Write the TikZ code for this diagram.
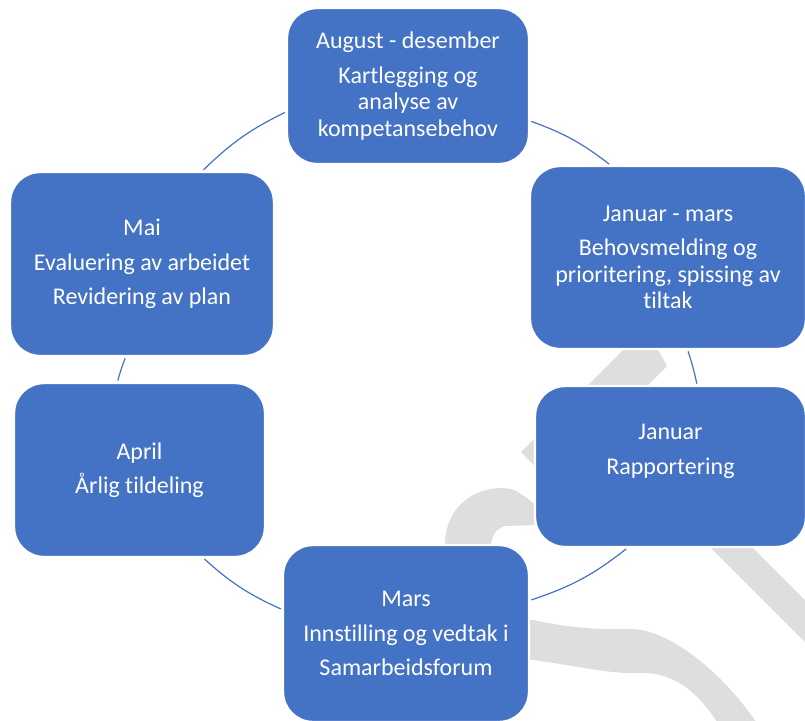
\documentclass[tikz,border=0pt]{standalone}
\usepackage{fontspec}
\setmainfont{Carlito}[Ligatures=NoCommon]
\definecolor{fasebla}{HTML}{4472C4}
\definecolor{merke}{HTML}{DEDEDE}

\begin{document}
\begin{tikzpicture}[x=0.5pt, y=-0.5pt,
    fase/.style={draw=white, line width=1.2pt, fill=fasebla, rounded corners=15pt,
        text=white, align=center, font=\fontsize{12}{13.25}\selectfont},
    sirkel/.style={draw=fasebla, line width=0.6pt, shorten <=0.6pt, shorten >=0.6pt}]
        \useasboundingbox (0,0) rectangle (805,720);
        \clip (0,0) rectangle (805,720);

        \fill [merke] (521,452) -- (631,342) -- (654,342) -- (667,366) -- (600,434) -- (592,452) -- (640,500) -- (567,500) -- cycle;
        \fill [merke] (663,500) -- (705,500) -- (950,745) -- (908,745) -- cycle;
        \fill [merke] (445,600) -- (445,542) .. controls (447,505) and (475,488) .. (502,488) .. controls (515,489) .. (540,508) -- (540,525) -- (505,526) .. controls (493,530) and (487,537) .. (487,600) -- cycle;
        \fill [merke] (500,618) -- (533,620) .. controls (570,628) and (600,630) .. (633,629) .. controls (665,630) and (720,665) .. (765,735) -- (725,735) .. controls (705,700) and (680,672) .. (640,673) .. controls (610,674) and (590,668) .. (533,660) -- (500,658) -- cycle;

        \node [fase, minimum width=121pt, minimum height=78pt] (aug) at (408,86) {August - desember\\[4pt]Kartlegging og\\analyse av\\kompetansebehov};
        \node [fase, minimum width=138pt, minimum height=91.5pt] (jm) at (668,257.5) {Januar - mars\\[4pt]Behovsmelding og\\prioritering, spissing av\\tiltak};
        \node [fase, minimum width=135.5pt, minimum height=80.5pt] (jan) at (670.5,466.5) {Januar\\[4pt]Rapportering\\[4pt]~};
        \node [fase, minimum width=123pt, minimum height=88.5pt] (mars) at (406,633.5) {Mars\\[4pt]Innstilling og vedtak i\\[4pt]Samarbeidsforum};
        \node [fase, minimum width=125.5pt, minimum height=87pt] (apr) at (139.5,470) {April\\[4pt]Årlig tildeling};
        \node [fase, minimum width=132pt, minimum height=92pt] (mai) at (142,264) {Mai\\[4pt]Evaluering av arbeidet\\[4pt]Revidering av plan};

        \draw [sirkel] (aug.-16) to [bend left=9] (jm.122);
        \draw [sirkel] (jm.-78) to [bend left=3] (jan.72);
        \draw [sirkel] (jan.-118) to [bend left=10] (mars.15);
        \draw [sirkel] (mars.169) to [bend left=9] (apr.-54);
        \draw [sirkel] (apr.104) to [bend left=3] (mai.-100);
        \draw [sirkel] (mai.57) to [bend left=9] (aug.-168);
        \end{tikzpicture}
\end{document}
